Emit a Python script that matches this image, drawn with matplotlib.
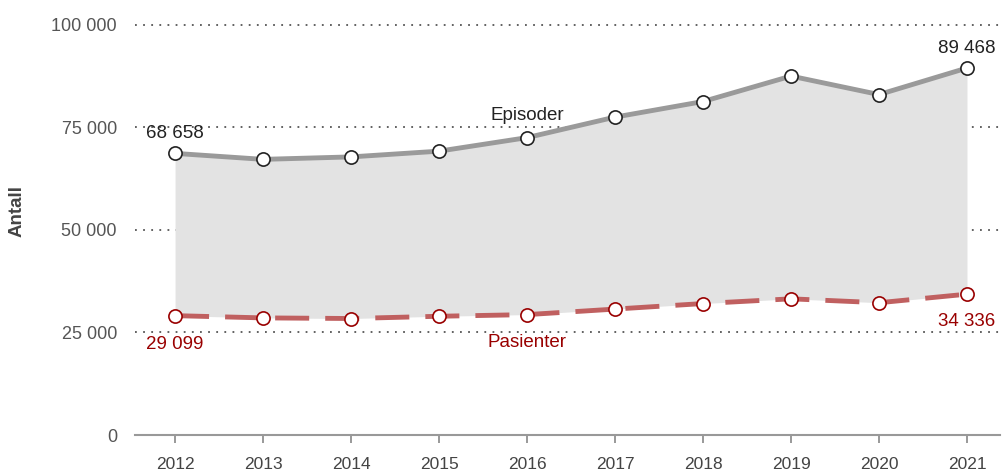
import matplotlib
matplotlib.use('Agg')
import matplotlib.pyplot as plt
from matplotlib.ticker import FuncFormatter

plt.rcParams['font.family'] = ['Liberation Sans', 'DejaVu Sans']

years = [2012, 2013, 2014, 2015, 2016, 2017, 2018, 2019, 2020, 2021]
episoder = [68658, 67200, 67800, 69200, 72500, 77500, 81300, 87500, 83000, 89468]
pasienter = [29099, 28550, 28400, 28950, 29350, 30700, 32050, 33200, 32250, 34336]
yticks = [0, 25000, 50000, 75000, 100000]

fig = plt.figure(figsize=(10.03, 4.75), dpi=100)
ax = fig.add_axes([0.1346, 0.0842, 0.8624, 0.905])

# shaded band between the two series
ax.fill_between(years, pasienter, episoder, color='#e3e3e3', zorder=2, lw=0)

ax.plot(years, episoder, color='#9a9a9a', lw=3.5, zorder=3,
        marker='o', ms=9.5, mfc='white', mec='#222222', mew=1.2)
ax.plot(years, pasienter, color='#c06060', lw=3.5, ls=(0, (7, 3.3)), zorder=3,
        marker='o', ms=9.5, mfc='white', mec='#990000', mew=1.2)

ax.set_xlim(2011.545, 2021.375)
ax.set_ylim(0, 104800)
ax.set_yticks(yticks)
ax.yaxis.set_major_formatter(FuncFormatter(lambda v, p: f'{int(v):,}'.replace(',', ' ')))
ax.set_xticks(years)
ax.set_xticklabels([str(y) for y in years],
                   fontfamily=['Liberation Sans Narrow', 'Liberation Sans'])
ax.tick_params(axis='y', length=0, pad=13, labelsize=13, labelcolor='#555555')
ax.tick_params(axis='x', length=6, width=1.2, color='#888888', pad=10,
               labelsize=12.5, labelcolor='#444444')

for y in yticks[1:]:
    ax.axhline(y, color='#555555', lw=1.3, ls=(0, (1, 3.5)), zorder=1)

for s in ['top', 'right', 'left']:
    ax.spines[s].set_visible(False)
ax.spines['bottom'].set_color('#999999')
ax.spines['bottom'].set_linewidth(1.5)

ax.set_ylabel('Antall', fontsize=13.5, fontweight='bold', color='#444444')
ax.yaxis.set_label_coords(-0.127, 0.52)

# value and series labels
ax.text(years[0], episoder[0] + 2800, '68 658', ha='center', va='bottom',
        fontsize=13.5, color='#222222', zorder=5)
ax.text(years[-1], episoder[-1] + 2800, '89 468', ha='center', va='bottom',
        fontsize=13.5, color='#222222', zorder=5)
ax.text(years[0], pasienter[0] - 5000, '29 099', ha='center', va='top',
        fontsize=13.5, color='#990000', zorder=5)
ax.text(years[-1], pasienter[-1] - 4500, '34 336', ha='center', va='top',
        fontsize=13.5, color='#990000', zorder=5)
ax.text(2016, 78000, 'Episoder', ha='center', va='center',
        fontsize=13.5, color='#222222', zorder=5)
ax.text(2016, 22500, 'Pasienter', ha='center', va='center',
        fontsize=13.5, color='#990000', zorder=5)

fig.savefig('out.png', dpi=100)
